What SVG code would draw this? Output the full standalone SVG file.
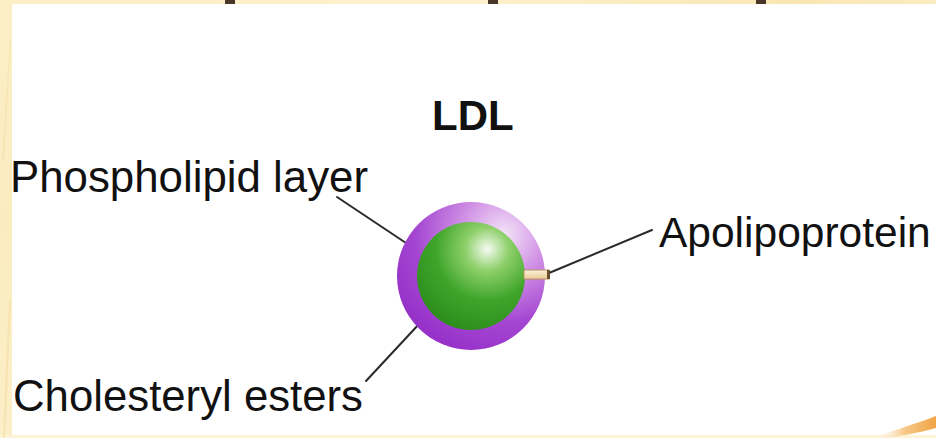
<svg xmlns="http://www.w3.org/2000/svg" width="936" height="438" viewBox="0 0 936 438">
  <defs>
    <linearGradient id="frameTop" x1="0" y1="0" x2="1" y2="0">
      <stop offset="0" stop-color="#fcefc6"/>
      <stop offset="0.5" stop-color="#fdf1cc"/>
      <stop offset="0.85" stop-color="#f9e6b4"/>
      <stop offset="1" stop-color="#fbebc0"/>
    </linearGradient>
    <linearGradient id="frameLeft" x1="0" y1="0" x2="0" y2="1">
      <stop offset="0" stop-color="#fcefc6"/>
      <stop offset="0.5" stop-color="#fbecc0"/>
      <stop offset="1" stop-color="#fcefc8"/>
    </linearGradient>
    <linearGradient id="swoosh" x1="0" y1="0" x2="1" y2="0">
      <stop offset="0" stop-color="#ffffff" stop-opacity="0"/>
      <stop offset="0.5" stop-color="#f8c98a"/>
      <stop offset="1" stop-color="#f0a445"/>
    </linearGradient>
    <radialGradient id="shell" cx="0.72" cy="0.22" r="0.85">
      <stop offset="0" stop-color="#f4e4f8"/>
      <stop offset="0.35" stop-color="#cf8ee4"/>
      <stop offset="0.7" stop-color="#a446d2"/>
      <stop offset="1" stop-color="#9630c8"/>
    </radialGradient>
    <radialGradient id="core" cx="0.65" cy="0.25" r="0.8">
      <stop offset="0" stop-color="#f6fbf2"/>
      <stop offset="0.25" stop-color="#8fd06c"/>
      <stop offset="0.6" stop-color="#3fa52a"/>
      <stop offset="1" stop-color="#2c8c1c"/>
    </radialGradient>
    <linearGradient id="stub" x1="0" y1="0" x2="0" y2="1">
      <stop offset="0" stop-color="#fbf1dc"/>
      <stop offset="1" stop-color="#e8cc96"/>
    </linearGradient>
  </defs>
  <style>
    .label { font-family: "Liberation Sans", Arial, sans-serif; font-size: 44px; fill: #111; }
    .title { font-family: "Liberation Sans", Arial, sans-serif; font-size: 42px; font-weight: bold; fill: #111; }
    .leader { stroke: #2a2a2a; stroke-width: 2; fill: none; stroke-linecap: round; }
  </style>

  <!-- slide frame -->
  <rect x="0" y="0" width="936" height="438" fill="#ffffff"/>
  <rect x="0" y="0" width="936" height="4" fill="url(#frameTop)"/>
  <rect x="0" y="0" width="12" height="438" fill="url(#frameLeft)"/>
  <rect x="0" y="435" width="936" height="3" fill="#fdf3d6"/>
  <path d="M3 438 L9 300 L11 300 L5 438 Z" fill="#f4dca4" opacity="0.6"/>
  <path d="M2 160 L10 40 L11 40 L4 160 Z" fill="#f4dca4" opacity="0.5"/>
  <path d="M872 438 C895 430 915 424 936 416 L936 428 C918 433 900 436 886 438 Z" fill="url(#swoosh)"/>

  <!-- cut-off heading glyph tails -->
  <rect x="225" y="0" width="10" height="4" fill="#4a3628"/>
  <rect x="488" y="0" width="10" height="4" fill="#4a3628"/>
  <rect x="756" y="0" width="10" height="4" fill="#4a3628"/>

  <!-- connectors -->
  <g id="connectors">
    <line class="leader" x1="337" y1="197" x2="412" y2="247"/>
    <line class="leader" x1="366" y1="381" x2="447" y2="294"/>
    <line class="leader" x1="549" y1="273" x2="652" y2="230"/>
  </g>

  <!-- LDL particle -->
  <g id="ldl-particle">
    <circle cx="471" cy="276" r="74" fill="url(#shell)"/>
    <circle cx="471" cy="276" r="54" fill="url(#core)"/>
    <rect x="524" y="270" width="25" height="9" fill="url(#stub)" stroke="#b89460" stroke-width="1"/>
    <rect x="547" y="270" width="3" height="9" fill="#6b5030"/>
  </g>

  <g id="title">
    <text class="title" x="432" y="130">LDL</text>
  </g>
  <g id="phospholipid-layer">
    <text class="label" x="10" y="192" textLength="358" lengthAdjust="spacingAndGlyphs">Phospholipid layer</text>
  </g>
  <g id="cholesteryl-esters">
    <text class="label" x="13" y="411" textLength="350" lengthAdjust="spacingAndGlyphs">Cholesteryl esters</text>
  </g>
  <g id="apolipoprotein">
    <text class="label" x="659" y="247" style="font-size:42.5px">Apolipoprotein</text>
  </g>
</svg>
